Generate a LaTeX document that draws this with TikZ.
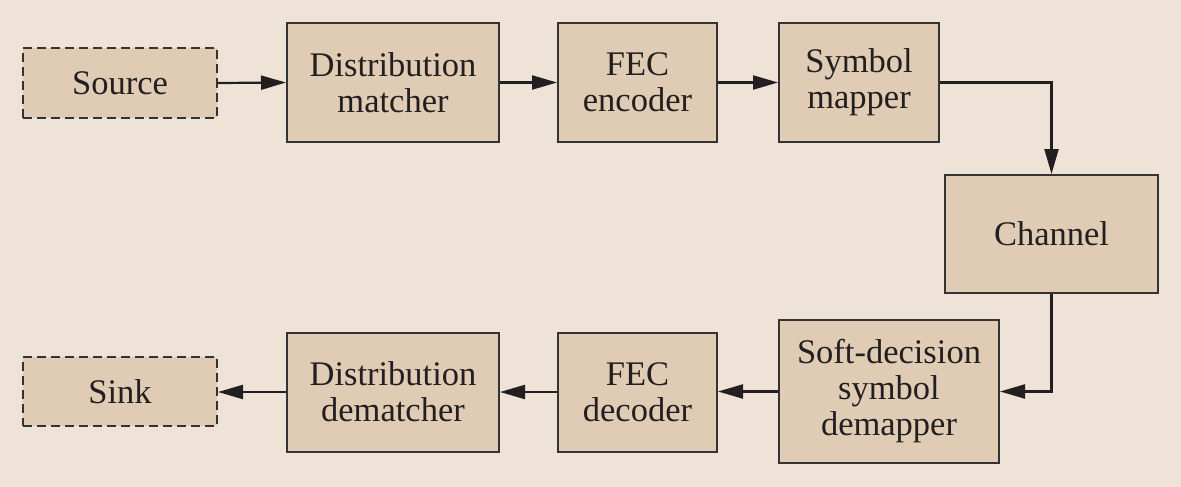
\documentclass[tikz,border=0pt]{standalone}
\usepackage{fontspec}
\setmainfont{Liberation Serif}
\usetikzlibrary{arrows.meta}
\definecolor{bg}{HTML}{EFE3D7}
\definecolor{boxfill}{HTML}{E0CCB4}
\definecolor{edge}{HTML}{333333}
\definecolor{ink}{HTML}{231F20}
\tikzset{
  blk/.style={draw=edge, line width=2pt, fill=boxfill, text=ink, align=center,
    inner sep=0pt, font=\fontsize{34.5}{36}\selectfont},
  dashblk/.style={blk, dash pattern=on 9pt off 5pt},
  conn/.style={draw=ink, line width=2.2pt, -{Triangle[length=25pt,width=14pt]}},
}
\begin{document}
\begin{tikzpicture}[x=1pt,y=-1pt]
\useasboundingbox[fill=bg] (0,0) rectangle (1181,487);
\node[dashblk, minimum width=194pt, minimum height=69pt] (src) at (120,83) {Source};
\node[blk, minimum width=212pt, minimum height=119pt] (dm) at (393,82.5) {Distribution\\matcher};
\node[blk, minimum width=159pt, minimum height=119pt] (fenc) at (637.5,82.5) {FEC\\encoder};
\node[blk, minimum width=160pt, minimum height=119pt] (sm) at (859,82.5) {Symbol\\mapper};
\node[blk, minimum width=213pt, minimum height=118pt] (ch) at (1051.5,234) {Channel};
\node[blk, minimum width=220pt, minimum height=143pt] (sd) at (889,391.5) {Soft-decision\\symbol\\demapper};
\node[blk, minimum width=159pt, minimum height=119pt] (fdec) at (637.5,392) {FEC\\decoder};
\node[blk, minimum width=212pt, minimum height=119pt] (dd) at (393,392) {Distribution\\dematcher};
\node[dashblk, minimum width=194pt, minimum height=69pt] (snk) at (120,391.5) {Sink};
\draw[conn] (src.east) -- (dm.west);
\draw[conn] (dm.east) -- (fenc.west);
\draw[conn] (fenc.east) -- (sm.west);
\draw[conn] (sm.east) -| (ch.north);
\draw[conn] (ch.south) |- (sd.east);
\draw[conn] (sd.west) -- (sd.west -| fdec.east);
\draw[conn] (fdec.west) -- (fdec.west -| dd.east);
\draw[conn] (dd.west) -- (dd.west -| snk.east);
\end{tikzpicture}
\end{document}
